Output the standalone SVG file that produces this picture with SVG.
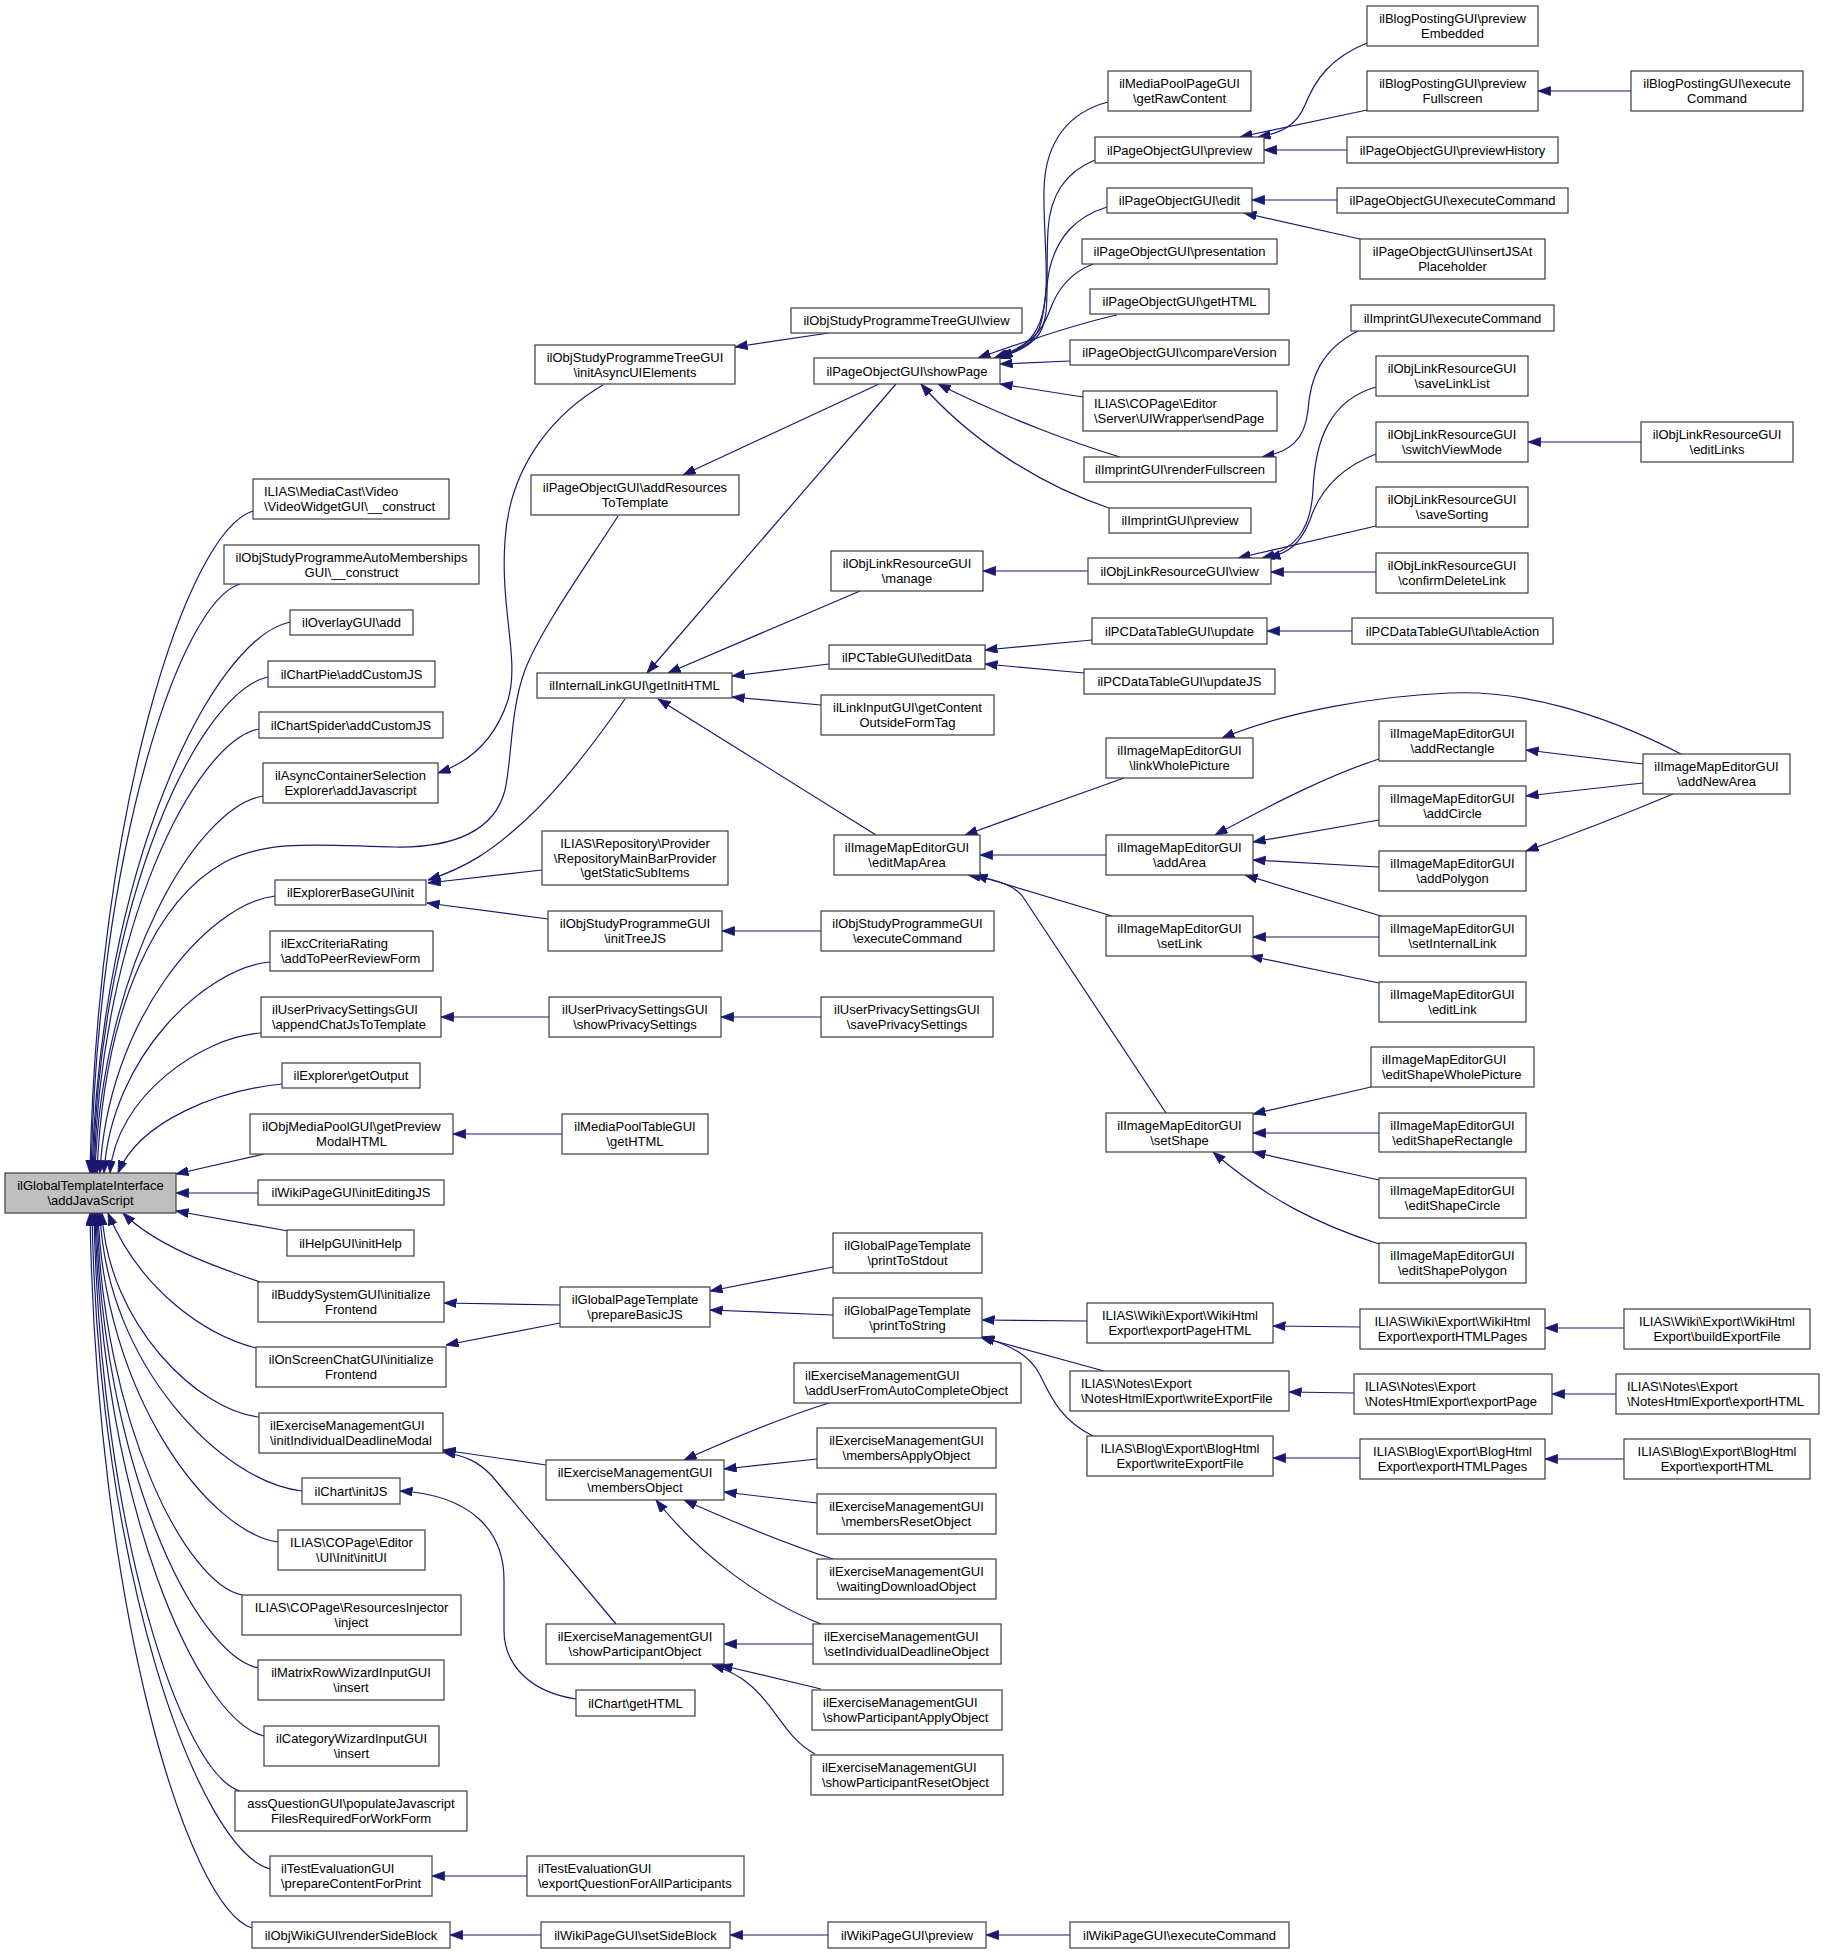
<svg xmlns="http://www.w3.org/2000/svg" width="1824" height="1954" viewBox="0 0 1824 1954">
<style>
.node rect{fill:#fff;stroke:#3c3c3c;stroke-width:1.2}
.node.root rect{fill:#bfbfbf}
.node text{font-family:"Liberation Sans",Arial,sans-serif;font-size:13px;fill:#000}
.c{text-anchor:middle}
.l{text-anchor:start}
.edges path{fill:none;stroke:#191970;stroke-width:1.2;marker-end:url(#a)}
</style>
<defs>
<marker id="a" markerUnits="userSpaceOnUse" markerWidth="14" markerHeight="10" refX="12.5" refY="4.5" orient="auto">
<path d="M0,0 L12.5,4.5 L0,9 z" fill="#191970" stroke="#191970" stroke-width="0.8"/>
</marker>
</defs>
<rect width="1824" height="1954" fill="#fff"/>
<g class="edges">
<path d="M253,511 C187,531 97,809 90,1173"/>
<path d="M240,584 C180,602 98,849 91,1173"/>
<path d="M290,622 C211,639 100,870 92,1173"/>
<path d="M268,677 C199,692 100,900 93,1173"/>
<path d="M259,729 C194,742 101,929 94,1173"/>
<path d="M263,796 C197,807 102,966 95,1173"/>
<path d="M618,516 C590,560 540,630 525,670 C510,710 512,760 505,790 C495,830 455,848 395,847 C330,846 270,838 225,862 C160,897 104,1000 97,1173"/>
<path d="M275,896 C207,904 107,1021 100,1173"/>
<path d="M270,962 C205,968 111,1057 104,1173"/>
<path d="M261,1033 C202,1037 116,1096 110,1173"/>
<path d="M282,1084 C220,1090 140,1120 118,1173"/>
<path d="M264,1154 L176,1174"/>
<path d="M258,1193 L176,1193"/>
<path d="M288,1231 L176,1211"/>
<path d="M260,1282 C210,1265 155,1245 123,1213"/>
<path d="M256,1348 C205,1335 140,1290 108,1213"/>
<path d="M259,1417 C199,1411 108,1325 102,1213"/>
<path d="M302,1491 C224,1483 106,1366 100,1213"/>
<path d="M278,1542 C208,1532 104,1394 98,1213"/>
<path d="M242,1595 C186,1584 103,1423 97,1213"/>
<path d="M258,1668 C194,1654 102,1463 96,1213"/>
<path d="M264,1736 C197,1720 101,1501 95,1213"/>
<path d="M240,1791 C182,1774 100,1531 94,1213"/>
<path d="M270,1869 C199,1849 98,1574 92,1213"/>
<path d="M252,1928 C187,1907 96,1606 90,1213"/>
<path d="M603,385 C560,410 510,460 505,540 C500,610 520,660 508,700 C495,740 470,762 438,773"/>
<path d="M625,699 C600,735 560,790 520,825 C490,852 465,868 428,880"/>
<path d="M542,870 L428,883"/>
<path d="M548,919 L427,903"/>
<path d="M549,1017 L441,1017"/>
<path d="M562,1134 L453,1134"/>
<path d="M560,1305 L444,1303"/>
<path d="M560,1323 L446,1345"/>
<path d="M546,1465 L443,1450"/>
<path d="M616,1624 L492,1476 C478,1461 465,1456 443,1452"/>
<path d="M576,1699 C530,1692 504,1665 504,1630 L504,1580 C504,1530 470,1495 400,1491"/>
<path d="M527,1876 L432,1876"/>
<path d="M541,1935 L450,1935"/>
<path d="M829,333 L735,347"/>
<path d="M879,384 L683,475"/>
<path d="M896,384 L647,673"/>
<path d="M860,591 L668,673"/>
<path d="M829,664 L732,676"/>
<path d="M821,705 L732,697"/>
<path d="M876,835 L658,699"/>
<path d="M821,931 L722,931"/>
<path d="M821,1017 L721,1017"/>
<path d="M833,1267 L710,1291"/>
<path d="M833,1315 L710,1310"/>
<path d="M829,1403 C790,1415 740,1435 684,1460"/>
<path d="M817,1459 L724,1469"/>
<path d="M817,1503 L724,1492"/>
<path d="M833,1559 C790,1545 740,1525 684,1500"/>
<path d="M821,1624 C760,1600 700,1555 656,1500"/>
<path d="M813,1644 L724,1644"/>
<path d="M821,1689 L720,1665"/>
<path d="M815,1754 C785,1738 775,1705 750,1685 C740,1676 725,1669 712,1665"/>
<path d="M828,1935 L730,1935"/>
<path d="M1108,102 C1070,112 1045,140 1044,190 C1043,240 1052,290 1040,322 C1032,342 1020,350 1000,357"/>
<path d="M1095,160 C1065,172 1050,195 1048,230 C1045,290 1052,320 1036,338 C1026,348 1014,353 998,358"/>
<path d="M1107,207 C1075,217 1058,237 1050,267 C1043,300 1046,328 1030,342 C1020,350 1008,354 996,358"/>
<path d="M1093,264 C1070,273 1057,290 1050,310 C1042,332 1030,346 994,358"/>
<path d="M1117,315 C1080,323 1040,336 978,358"/>
<path d="M1070,361 L1000,364"/>
<path d="M1083,397 L1000,384"/>
<path d="M1120,457 C1080,445 1010,420 938,384"/>
<path d="M1109,508 C1040,485 970,440 921,384"/>
<path d="M1088,571 L983,571"/>
<path d="M1092,640 L985,650"/>
<path d="M1084,673 L985,664"/>
<path d="M1124,778 L965,835"/>
<path d="M1106,855 L980,855"/>
<path d="M1112,916 L975,875"/>
<path d="M1166,1113 L1023,897 C1015,886 1000,880 968,875"/>
<path d="M1367,43 C1330,58 1315,80 1305,105 C1297,125 1282,133 1258,137"/>
<path d="M1367,110 L1240,137"/>
<path d="M1347,150 L1264,150"/>
<path d="M1337,200 L1252,200"/>
<path d="M1360,239 L1244,213"/>
<path d="M1358,331 C1320,350 1310,380 1308,410 C1305,440 1290,452 1262,457"/>
<path d="M1376,387 C1330,400 1315,440 1313,490 C1311,530 1295,550 1262,558"/>
<path d="M1376,454 C1335,470 1318,495 1310,520 C1300,545 1288,553 1268,558"/>
<path d="M1376,526 L1238,558"/>
<path d="M1376,572 L1271,572"/>
<path d="M1352,631 L1267,631"/>
<path d="M1379,759 C1330,775 1280,800 1215,835"/>
<path d="M1379,820 L1253,842"/>
<path d="M1379,867 L1253,860"/>
<path d="M1381,916 L1245,875"/>
<path d="M1379,937 L1253,937"/>
<path d="M1379,983 L1250,956"/>
<path d="M1371,1087 L1253,1114"/>
<path d="M1379,1133 L1253,1133"/>
<path d="M1379,1180 L1253,1152"/>
<path d="M1379,1244 C1320,1225 1268,1200 1213,1152"/>
<path d="M1631,91 L1538,91"/>
<path d="M1641,442 L1528,442"/>
<path d="M1681,754 C1600,712 1520,690 1450,693 C1380,696 1290,710 1222,738"/>
<path d="M1643,764 L1526,750"/>
<path d="M1643,783 L1526,796"/>
<path d="M1673,794 C1630,812 1580,832 1526,851"/>
<path d="M1087,1321 L982,1320"/>
<path d="M1104,1371 L980,1337"/>
<path d="M1093,1436 C1060,1420 1050,1395 1040,1375 C1030,1355 1010,1345 982,1337"/>
<path d="M1360,1327 L1273,1326"/>
<path d="M1354,1393 L1289,1392"/>
<path d="M1360,1458 L1273,1458"/>
<path d="M1624,1328 L1545,1328"/>
<path d="M1616,1394 L1552,1394"/>
<path d="M1624,1459 L1545,1459"/>
<path d="M1070,1935 L986,1935"/>
</g>
<g id="root" class="node root"><rect x="5" y="1173" width="171" height="40"/><text class="c" x="90.5" y="1190">ilGlobalTemplateInterface</text><text class="c" x="90.5" y="1205">\addJavaScript</text></g>
<g id="n_video" class="node"><rect x="253" y="479" width="196" height="40"/><text class="l" x="264" y="496">ILIAS\MediaCast\Video</text><text class="l" x="264" y="511">\VideoWidgetGUI\__construct</text></g>
<g id="n_automem" class="node"><rect x="224" y="545" width="255" height="39"/><text class="c" x="351.5" y="562">ilObjStudyProgrammeAutoMemberships</text><text class="c" x="351.5" y="577">GUI\__construct</text></g>
<g id="n_overlay" class="node"><rect x="290" y="610" width="123" height="25"/><text class="c" x="351.5" y="627">ilOverlayGUI\add</text></g>
<g id="n_chartpie" class="node"><rect x="268" y="661" width="167" height="26"/><text class="c" x="351.5" y="678.5">ilChartPie\addCustomJS</text></g>
<g id="n_chartspider" class="node"><rect x="259" y="712" width="184" height="26"/><text class="c" x="351" y="729.5">ilChartSpider\addCustomJS</text></g>
<g id="n_asynccont" class="node"><rect x="263" y="763" width="175" height="40"/><text class="c" x="350.5" y="780">ilAsyncContainerSelection</text><text class="c" x="350.5" y="795">Explorer\addJavascript</text></g>
<g id="n_explbase" class="node"><rect x="275" y="880" width="151" height="25"/><text class="c" x="350.5" y="897">ilExplorerBaseGUI\init</text></g>
<g id="n_exccrit" class="node"><rect x="270" y="931" width="163" height="40"/><text class="l" x="281" y="948">ilExcCriteriaRating</text><text class="l" x="281" y="963">\addToPeerReviewForm</text></g>
<g id="n_upappend" class="node"><rect x="261" y="997" width="180" height="40"/><text class="l" x="272" y="1014">ilUserPrivacySettingsGUI</text><text class="l" x="272" y="1029">\appendChatJsToTemplate</text></g>
<g id="n_explout" class="node"><rect x="282" y="1063" width="138" height="25"/><text class="c" x="351" y="1080">ilExplorer\getOutput</text></g>
<g id="n_mpprev" class="node"><rect x="250" y="1114" width="203" height="40"/><text class="c" x="351.5" y="1131">ilObjMediaPoolGUI\getPreview</text><text class="c" x="351.5" y="1146">ModalHTML</text></g>
<g id="n_wikiedit" class="node"><rect x="258" y="1180" width="186" height="25"/><text class="c" x="351" y="1197">ilWikiPageGUI\initEditingJS</text></g>
<g id="n_help" class="node"><rect x="287" y="1230" width="127" height="26"/><text class="c" x="350.5" y="1247.5">ilHelpGUI\initHelp</text></g>
<g id="n_buddy" class="node"><rect x="258" y="1282" width="186" height="40"/><text class="c" x="351" y="1299">ilBuddySystemGUI\initialize</text><text class="c" x="351" y="1314">Frontend</text></g>
<g id="n_onscreen" class="node"><rect x="256" y="1347" width="190" height="40"/><text class="c" x="351" y="1364">ilOnScreenChatGUI\initialize</text><text class="c" x="351" y="1379">Frontend</text></g>
<g id="n_excinit" class="node"><rect x="259" y="1413" width="184" height="40"/><text class="l" x="270" y="1430">ilExerciseManagementGUI</text><text class="l" x="270" y="1445">\initIndividualDeadlineModal</text></g>
<g id="n_chartinit" class="node"><rect x="302" y="1478" width="98" height="26"/><text class="c" x="351" y="1495.5">ilChart\initJS</text></g>
<g id="n_copageui" class="node"><rect x="278" y="1530" width="147" height="40"/><text class="c" x="351.5" y="1547">ILIAS\COPage\Editor</text><text class="c" x="351.5" y="1562">\UI\Init\initUI</text></g>
<g id="n_inject" class="node"><rect x="242" y="1595" width="219" height="40"/><text class="c" x="351.5" y="1612">ILIAS\COPage\ResourcesInjector</text><text class="c" x="351.5" y="1627">\inject</text></g>
<g id="n_matrix" class="node"><rect x="258" y="1660" width="186" height="40"/><text class="c" x="351" y="1677">ilMatrixRowWizardInputGUI</text><text class="c" x="351" y="1692">\insert</text></g>
<g id="n_category" class="node"><rect x="264" y="1726" width="175" height="40"/><text class="c" x="351.5" y="1743">ilCategoryWizardInputGUI</text><text class="c" x="351.5" y="1758">\insert</text></g>
<g id="n_assq" class="node"><rect x="235" y="1791" width="232" height="40"/><text class="c" x="351" y="1808">assQuestionGUI\populateJavascript</text><text class="c" x="351" y="1823">FilesRequiredForWorkForm</text></g>
<g id="n_testprep" class="node"><rect x="270" y="1856" width="162" height="40"/><text class="l" x="281" y="1873">ilTestEvaluationGUI</text><text class="l" x="281" y="1888">\prepareContentForPrint</text></g>
<g id="n_wikirender" class="node"><rect x="252" y="1922" width="198" height="26"/><text class="c" x="351" y="1939.5">ilObjWikiGUI\renderSideBlock</text></g>
<g id="n_initasync" class="node"><rect x="535" y="345" width="200" height="39"/><text class="c" x="635" y="362">ilObjStudyProgrammeTreeGUI</text><text class="c" x="635" y="377">\initAsyncUIElements</text></g>
<g id="n_addres" class="node"><rect x="531" y="475" width="208" height="40"/><text class="c" x="635" y="492">ilPageObjectGUI\addResources</text><text class="c" x="635" y="507">ToTemplate</text></g>
<g id="n_initlink" class="node"><rect x="537" y="673" width="195" height="25"/><text class="c" x="634.5" y="690">ilInternalLinkGUI\getInitHTML</text></g>
<g id="n_repo" class="node"><rect x="542" y="831" width="186" height="54"/><text class="c" x="635" y="848">ILIAS\Repository\Provider</text><text class="c" x="635" y="862.5">\RepositoryMainBarProvider</text><text class="c" x="635" y="877">\getStaticSubItems</text></g>
<g id="n_inittree" class="node"><rect x="548" y="911" width="174" height="40"/><text class="c" x="635" y="928">ilObjStudyProgrammeGUI</text><text class="c" x="635" y="943">\initTreeJS</text></g>
<g id="n_upshow" class="node"><rect x="549" y="997" width="172" height="40"/><text class="c" x="635" y="1014">ilUserPrivacySettingsGUI</text><text class="c" x="635" y="1029">\showPrivacySettings</text></g>
<g id="n_mptable" class="node"><rect x="562" y="1114" width="146" height="40"/><text class="c" x="635" y="1131">ilMediaPoolTableGUI</text><text class="c" x="635" y="1146">\getHTML</text></g>
<g id="n_prepbasic" class="node"><rect x="560" y="1287" width="150" height="40"/><text class="c" x="635" y="1304">ilGlobalPageTemplate</text><text class="c" x="635" y="1319">\prepareBasicJS</text></g>
<g id="n_excmembers" class="node"><rect x="546" y="1460" width="178" height="40"/><text class="c" x="635" y="1477">ilExerciseManagementGUI</text><text class="c" x="635" y="1492">\membersObject</text></g>
<g id="n_excshowpart" class="node"><rect x="546" y="1624" width="178" height="40"/><text class="c" x="635" y="1641">ilExerciseManagementGUI</text><text class="c" x="635" y="1656">\showParticipantObject</text></g>
<g id="n_chartgethtml" class="node"><rect x="576" y="1690" width="119" height="26"/><text class="c" x="635.5" y="1707.5">ilChart\getHTML</text></g>
<g id="n_testexport" class="node"><rect x="527" y="1856" width="217" height="40"/><text class="l" x="538" y="1873">ilTestEvaluationGUI</text><text class="l" x="538" y="1888">\exportQuestionForAllParticipants</text></g>
<g id="n_wikiside" class="node"><rect x="541" y="1922" width="189" height="26"/><text class="c" x="635.5" y="1939.5">ilWikiPageGUI\setSideBlock</text></g>
<g id="n_treeview" class="node"><rect x="791" y="308" width="231" height="25"/><text class="c" x="906.5" y="325">ilObjStudyProgrammeTreeGUI\view</text></g>
<g id="n_showpage" class="node"><rect x="814" y="358" width="186" height="26"/><text class="c" x="907" y="375.5">ilPageObjectGUI\showPage</text></g>
<g id="n_manage" class="node"><rect x="831" y="551" width="152" height="40"/><text class="c" x="907" y="568">ilObjLinkResourceGUI</text><text class="c" x="907" y="583">\manage</text></g>
<g id="n_editdata" class="node"><rect x="829" y="645" width="156" height="24"/><text class="c" x="907" y="661.5">ilPCTableGUI\editData</text></g>
<g id="n_linkinput" class="node"><rect x="821" y="695" width="173" height="40"/><text class="c" x="907.5" y="712">ilLinkInputGUI\getContent</text><text class="c" x="907.5" y="727">OutsideFormTag</text></g>
<g id="n_editmap" class="node"><rect x="834" y="835" width="146" height="40"/><text class="c" x="907" y="852">ilImageMapEditorGUI</text><text class="c" x="907" y="867">\editMapArea</text></g>
<g id="n_spexec" class="node"><rect x="821" y="911" width="173" height="40"/><text class="c" x="907.5" y="928">ilObjStudyProgrammeGUI</text><text class="c" x="907.5" y="943">\executeCommand</text></g>
<g id="n_upsave" class="node"><rect x="821" y="997" width="172" height="40"/><text class="c" x="907" y="1014">ilUserPrivacySettingsGUI</text><text class="c" x="907" y="1029">\savePrivacySettings</text></g>
<g id="n_stdout" class="node"><rect x="833" y="1233" width="149" height="40"/><text class="c" x="907.5" y="1250">ilGlobalPageTemplate</text><text class="c" x="907.5" y="1265">\printToStdout</text></g>
<g id="n_tostring" class="node"><rect x="833" y="1298" width="149" height="40"/><text class="c" x="907.5" y="1315">ilGlobalPageTemplate</text><text class="c" x="907.5" y="1330">\printToString</text></g>
<g id="n_adduser" class="node"><rect x="794" y="1363" width="227" height="40"/><text class="l" x="805" y="1380">ilExerciseManagementGUI</text><text class="l" x="805" y="1395">\addUserFromAutoCompleteObject</text></g>
<g id="n_mapply" class="node"><rect x="817" y="1428" width="179" height="40"/><text class="c" x="906.5" y="1445">ilExerciseManagementGUI</text><text class="c" x="906.5" y="1460">\membersApplyObject</text></g>
<g id="n_mreset" class="node"><rect x="817" y="1494" width="179" height="40"/><text class="c" x="906.5" y="1511">ilExerciseManagementGUI</text><text class="c" x="906.5" y="1526">\membersResetObject</text></g>
<g id="n_waiting" class="node"><rect x="817" y="1559" width="179" height="40"/><text class="c" x="906.5" y="1576">ilExerciseManagementGUI</text><text class="c" x="906.5" y="1591">\waitingDownloadObject</text></g>
<g id="n_setind" class="node"><rect x="813" y="1624" width="188" height="40"/><text class="l" x="824" y="1641">ilExerciseManagementGUI</text><text class="l" x="824" y="1656">\setIndividualDeadlineObject</text></g>
<g id="n_spapply" class="node"><rect x="812" y="1690" width="190" height="40"/><text class="l" x="823" y="1707">ilExerciseManagementGUI</text><text class="l" x="823" y="1722">\showParticipantApplyObject</text></g>
<g id="n_spreset" class="node"><rect x="811" y="1755" width="192" height="40"/><text class="l" x="822" y="1772">ilExerciseManagementGUI</text><text class="l" x="822" y="1787">\showParticipantResetObject</text></g>
<g id="n_wikipreview" class="node"><rect x="828" y="1922" width="158" height="26"/><text class="c" x="907" y="1939.5">ilWikiPageGUI\preview</text></g>
<g id="n_mppage" class="node"><rect x="1108" y="71" width="143" height="40"/><text class="c" x="1179.5" y="88">ilMediaPoolPageGUI</text><text class="c" x="1179.5" y="103">\getRawContent</text></g>
<g id="n_popreview" class="node"><rect x="1095" y="137" width="169" height="26"/><text class="c" x="1179.5" y="154.5">ilPageObjectGUI\preview</text></g>
<g id="n_poedit" class="node"><rect x="1107" y="188" width="145" height="25"/><text class="c" x="1179.5" y="205">ilPageObjectGUI\edit</text></g>
<g id="n_popresent" class="node"><rect x="1082" y="239" width="195" height="25"/><text class="c" x="1179.5" y="256">ilPageObjectGUI\presentation</text></g>
<g id="n_pogethtml" class="node"><rect x="1090" y="289" width="179" height="25"/><text class="c" x="1179.5" y="306">ilPageObjectGUI\getHTML</text></g>
<g id="n_pocompare" class="node"><rect x="1070" y="340" width="219" height="25"/><text class="c" x="1179.5" y="357">ilPageObjectGUI\compareVersion</text></g>
<g id="n_sendpage" class="node"><rect x="1083" y="391" width="194" height="40"/><text class="l" x="1094" y="408">ILIAS\COPage\Editor</text><text class="l" x="1094" y="423">\Server\UIWrapper\sendPage</text></g>
<g id="n_imprender" class="node"><rect x="1084" y="457" width="192" height="25"/><text class="c" x="1180" y="474">ilImprintGUI\renderFullscreen</text></g>
<g id="n_imppreview" class="node"><rect x="1109" y="508" width="142" height="25"/><text class="c" x="1180" y="525">ilImprintGUI\preview</text></g>
<g id="n_lrview" class="node"><rect x="1088" y="558" width="183" height="26"/><text class="c" x="1179.5" y="575.5">ilObjLinkResourceGUI\view</text></g>
<g id="n_pcdtupdate" class="node"><rect x="1092" y="618" width="175" height="26"/><text class="c" x="1179.5" y="635.5">ilPCDataTableGUI\update</text></g>
<g id="n_pcdtupdatejs" class="node"><rect x="1084" y="669" width="191" height="25"/><text class="c" x="1179.5" y="686">ilPCDataTableGUI\updateJS</text></g>
<g id="n_linkwhole" class="node"><rect x="1106" y="738" width="147" height="40"/><text class="c" x="1179.5" y="755">ilImageMapEditorGUI</text><text class="c" x="1179.5" y="770">\linkWholePicture</text></g>
<g id="n_addarea" class="node"><rect x="1106" y="835" width="147" height="40"/><text class="c" x="1179.5" y="852">ilImageMapEditorGUI</text><text class="c" x="1179.5" y="867">\addArea</text></g>
<g id="n_setlink" class="node"><rect x="1106" y="916" width="147" height="40"/><text class="c" x="1179.5" y="933">ilImageMapEditorGUI</text><text class="c" x="1179.5" y="948">\setLink</text></g>
<g id="n_setshape" class="node"><rect x="1106" y="1113" width="147" height="39"/><text class="c" x="1179.5" y="1130">ilImageMapEditorGUI</text><text class="c" x="1179.5" y="1145">\setShape</text></g>
<g id="n_wikiexportpage" class="node"><rect x="1087" y="1303" width="186" height="40"/><text class="c" x="1180" y="1320">ILIAS\Wiki\Export\WikiHtml</text><text class="c" x="1180" y="1335">Export\exportPageHTML</text></g>
<g id="n_noteswrite" class="node"><rect x="1070" y="1371" width="219" height="40"/><text class="l" x="1081" y="1388">ILIAS\Notes\Export</text><text class="l" x="1081" y="1403">\NotesHtmlExport\writeExportFile</text></g>
<g id="n_blogwrite" class="node"><rect x="1087" y="1436" width="186" height="40"/><text class="c" x="1180" y="1453">ILIAS\Blog\Export\BlogHtml</text><text class="c" x="1180" y="1468">Export\writeExportFile</text></g>
<g id="n_wikiexec" class="node"><rect x="1070" y="1922" width="219" height="26"/><text class="c" x="1179.5" y="1939.5">ilWikiPageGUI\executeCommand</text></g>
<g id="n_blogembedded" class="node"><rect x="1367" y="6" width="171" height="40"/><text class="c" x="1452.5" y="23">ilBlogPostingGUI\preview</text><text class="c" x="1452.5" y="38">Embedded</text></g>
<g id="n_blogfull" class="node"><rect x="1367" y="71" width="171" height="40"/><text class="c" x="1452.5" y="88">ilBlogPostingGUI\preview</text><text class="c" x="1452.5" y="103">Fullscreen</text></g>
<g id="n_pohistory" class="node"><rect x="1347" y="137" width="211" height="26"/><text class="c" x="1452.5" y="154.5">ilPageObjectGUI\previewHistory</text></g>
<g id="n_poexec" class="node"><rect x="1337" y="188" width="231" height="25"/><text class="c" x="1452.5" y="205">ilPageObjectGUI\executeCommand</text></g>
<g id="n_insertjs" class="node"><rect x="1360" y="239" width="185" height="40"/><text class="c" x="1452.5" y="256">ilPageObjectGUI\insertJSAt</text><text class="c" x="1452.5" y="271">Placeholder</text></g>
<g id="n_impexec" class="node"><rect x="1351" y="305" width="203" height="26"/><text class="c" x="1452.5" y="322.5">ilImprintGUI\executeCommand</text></g>
<g id="n_lrsavelist" class="node"><rect x="1376" y="356" width="152" height="40"/><text class="c" x="1452" y="373">ilObjLinkResourceGUI</text><text class="c" x="1452" y="388">\saveLinkList</text></g>
<g id="n_lrswitch" class="node"><rect x="1376" y="422" width="152" height="40"/><text class="c" x="1452" y="439">ilObjLinkResourceGUI</text><text class="c" x="1452" y="454">\switchViewMode</text></g>
<g id="n_lrsavesort" class="node"><rect x="1376" y="487" width="152" height="40"/><text class="c" x="1452" y="504">ilObjLinkResourceGUI</text><text class="c" x="1452" y="519">\saveSorting</text></g>
<g id="n_lrconfirm" class="node"><rect x="1376" y="553" width="152" height="40"/><text class="c" x="1452" y="570">ilObjLinkResourceGUI</text><text class="c" x="1452" y="585">\confirmDeleteLink</text></g>
<g id="n_tableaction" class="node"><rect x="1352" y="618" width="201" height="26"/><text class="c" x="1452.5" y="635.5">ilPCDataTableGUI\tableAction</text></g>
<g id="n_addrect" class="node"><rect x="1379" y="721" width="147" height="40"/><text class="c" x="1452.5" y="738">ilImageMapEditorGUI</text><text class="c" x="1452.5" y="753">\addRectangle</text></g>
<g id="n_addcircle" class="node"><rect x="1379" y="786" width="147" height="40"/><text class="c" x="1452.5" y="803">ilImageMapEditorGUI</text><text class="c" x="1452.5" y="818">\addCircle</text></g>
<g id="n_addpoly" class="node"><rect x="1379" y="851" width="147" height="40"/><text class="c" x="1452.5" y="868">ilImageMapEditorGUI</text><text class="c" x="1452.5" y="883">\addPolygon</text></g>
<g id="n_setinternal" class="node"><rect x="1379" y="916" width="147" height="40"/><text class="c" x="1452.5" y="933">ilImageMapEditorGUI</text><text class="c" x="1452.5" y="948">\setInternalLink</text></g>
<g id="n_editlink" class="node"><rect x="1379" y="982" width="147" height="40"/><text class="c" x="1452.5" y="999">ilImageMapEditorGUI</text><text class="c" x="1452.5" y="1014">\editLink</text></g>
<g id="n_eswhole" class="node"><rect x="1371" y="1047" width="163" height="40"/><text class="l" x="1382" y="1064">ilImageMapEditorGUI</text><text class="l" x="1382" y="1079">\editShapeWholePicture</text></g>
<g id="n_esrect" class="node"><rect x="1379" y="1113" width="147" height="39"/><text class="c" x="1452.5" y="1130">ilImageMapEditorGUI</text><text class="c" x="1452.5" y="1145">\editShapeRectangle</text></g>
<g id="n_escircle" class="node"><rect x="1379" y="1178" width="147" height="40"/><text class="c" x="1452.5" y="1195">ilImageMapEditorGUI</text><text class="c" x="1452.5" y="1210">\editShapeCircle</text></g>
<g id="n_espoly" class="node"><rect x="1379" y="1243" width="147" height="40"/><text class="c" x="1452.5" y="1260">ilImageMapEditorGUI</text><text class="c" x="1452.5" y="1275">\editShapePolygon</text></g>
<g id="n_wikipages" class="node"><rect x="1360" y="1309" width="185" height="40"/><text class="c" x="1452.5" y="1326">ILIAS\Wiki\Export\WikiHtml</text><text class="c" x="1452.5" y="1341">Export\exportHTMLPages</text></g>
<g id="n_notespage" class="node"><rect x="1354" y="1374" width="198" height="40"/><text class="l" x="1365" y="1391">ILIAS\Notes\Export</text><text class="l" x="1365" y="1406">\NotesHtmlExport\exportPage</text></g>
<g id="n_blogpages" class="node"><rect x="1360" y="1439" width="185" height="40"/><text class="c" x="1452.5" y="1456">ILIAS\Blog\Export\BlogHtml</text><text class="c" x="1452.5" y="1471">Export\exportHTMLPages</text></g>
<g id="n_blogexec" class="node"><rect x="1631" y="71" width="172" height="40"/><text class="c" x="1717" y="88">ilBlogPostingGUI\execute</text><text class="c" x="1717" y="103">Command</text></g>
<g id="n_lreditlinks" class="node"><rect x="1641" y="422" width="152" height="40"/><text class="c" x="1717" y="439">ilObjLinkResourceGUI</text><text class="c" x="1717" y="454">\editLinks</text></g>
<g id="n_addnewarea" class="node"><rect x="1643" y="754" width="147" height="40"/><text class="c" x="1716.5" y="771">ilImageMapEditorGUI</text><text class="c" x="1716.5" y="786">\addNewArea</text></g>
<g id="n_wikibuild" class="node"><rect x="1624" y="1309" width="186" height="40"/><text class="c" x="1717" y="1326">ILIAS\Wiki\Export\WikiHtml</text><text class="c" x="1717" y="1341">Export\buildExportFile</text></g>
<g id="n_notesexport" class="node"><rect x="1616" y="1374" width="203" height="40"/><text class="l" x="1627" y="1391">ILIAS\Notes\Export</text><text class="l" x="1627" y="1406">\NotesHtmlExport\exportHTML</text></g>
<g id="n_blogexport" class="node"><rect x="1624" y="1439" width="186" height="40"/><text class="c" x="1717" y="1456">ILIAS\Blog\Export\BlogHtml</text><text class="c" x="1717" y="1471">Export\exportHTML</text></g>
</svg>
